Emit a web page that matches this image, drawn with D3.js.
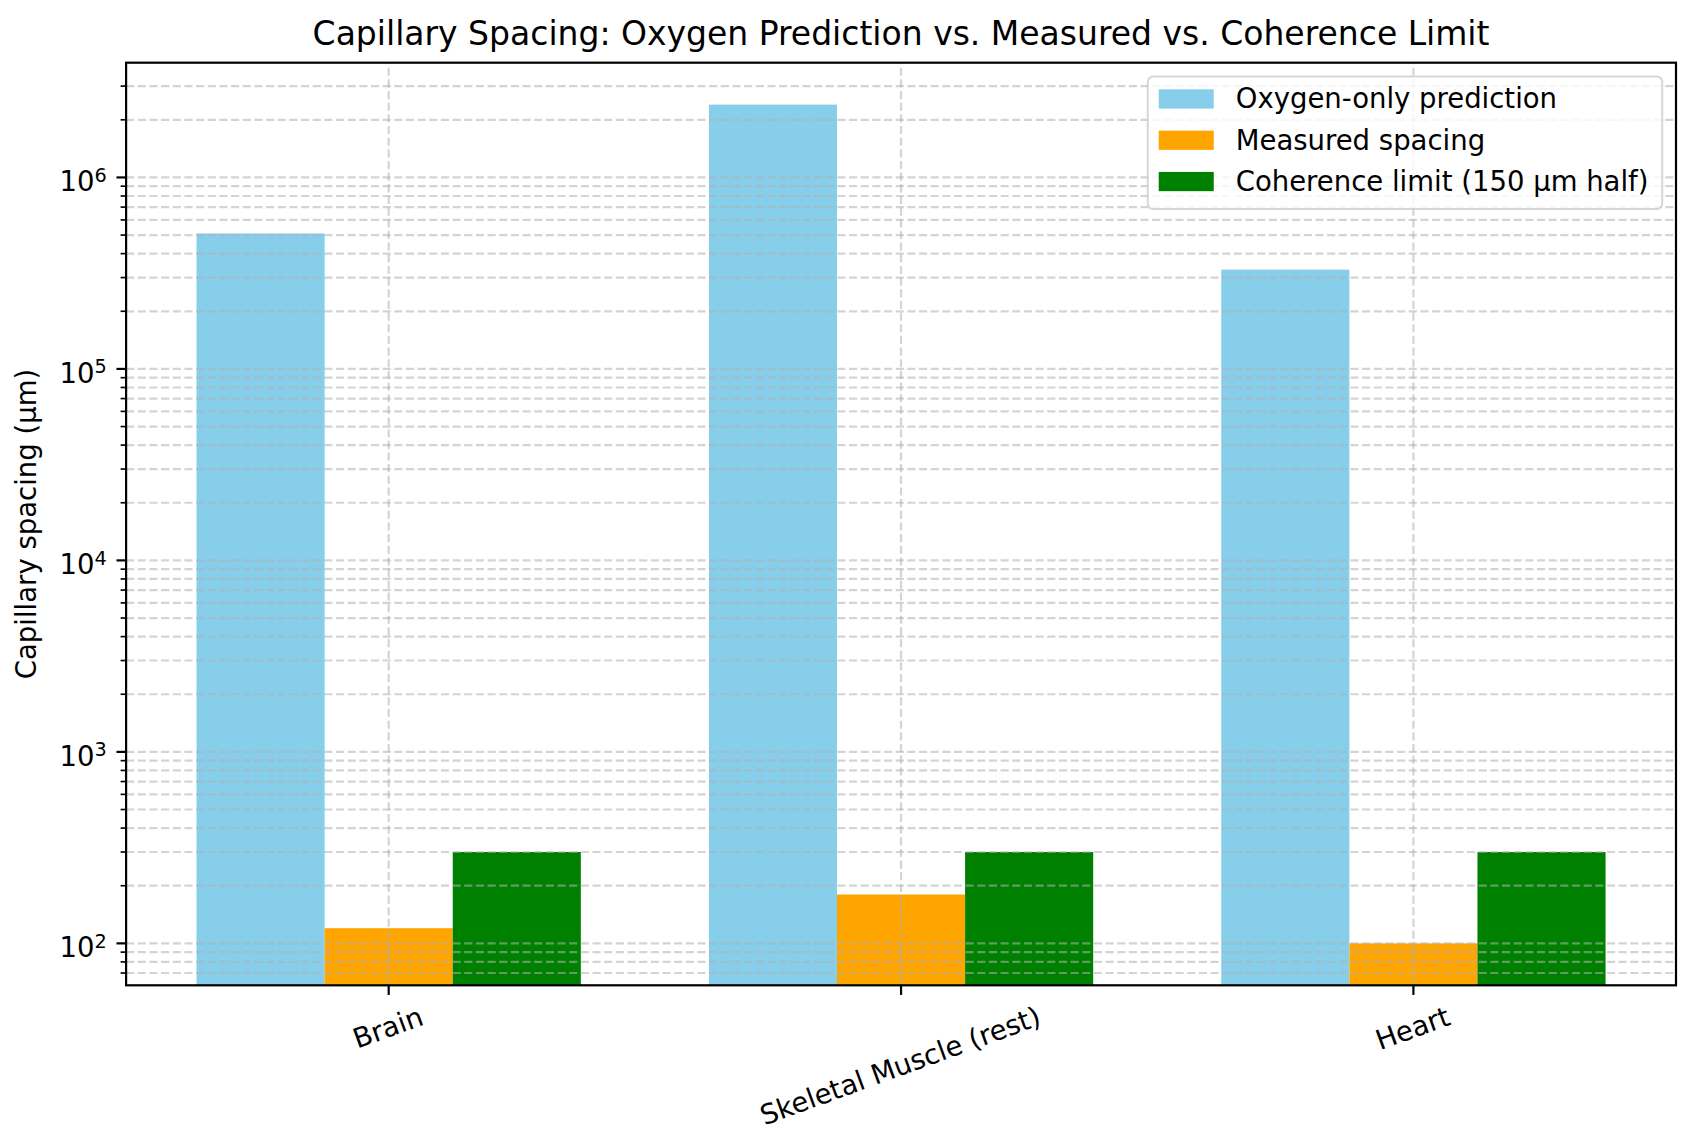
<!DOCTYPE html>
<html>
<head>
<meta charset="utf-8">
<script src="https://cdn.jsdelivr.net/npm/d3@7"></script>
<style>
  html, body { margin: 0; padding: 0; background: #ffffff; }
  svg { display: block; }
  text { font-family: "DejaVu Sans", sans-serif; fill: #000; }
</style>
</head>
<body>
<svg id="chart" width="1692" height="1148"></svg>
<script>
// ---- data ----
const categories = ["Brain", "Skeletal Muscle (rest)", "Heart"];
const oxygenPrediction = [510000, 2400000, 330000];
const measuredSpacing = [120, 180, 100];
const coherenceLimit = [300, 300, 300];
const seriesNames = ["Oxygen-only prediction", "Measured spacing", "Coherence limit (150 µm half)"];
const seriesColors = ["#87CEEB", "#FFA500", "#008000"];
const majorTickValues = [1e2, 1e3, 1e4, 1e5, 1e6];
const majorTickExponents = ["2", "3", "4", "5", "6"];
const titleText = "Capillary Spacing: Oxygen Prediction vs. Measured vs. Coherence Limit";
const yLabelText = "Capillary spacing (µm)";

const series = [oxygenPrediction, measuredSpacing, coherenceLimit];

// ---- layout ----
const W = 1692, H = 1148;
const plot = { left: 126.1, right: 1676, top: 62.7, bottom: 985.3 };
const FS = 27.5;       // 10pt
const TFS = 33;        // 12pt
const PT = 2.75;       // px per pt
const barW = 0.25;

const svg = d3.select("#chart");

// x scale (matplotlib-like 5% margins)
const xLo = -1.5 * barW, xHi = (categories.length - 1) + 1.5 * barW;
const xPad = 0.05 * (xHi - xLo);
const x = d3.scaleLinear().domain([xLo - xPad, xHi + xPad]).range([plot.left, plot.right]);

// y log scale with 5% margins in log space
const allVals = series.flat();
const lmin = Math.log10(d3.min(allVals)), lmax = Math.log10(d3.max(allVals));
const lpad = 0.05 * (lmax - lmin);
const y = d3.scaleLog().domain([Math.pow(10, lmin - lpad), Math.pow(10, lmax + lpad)]).range([plot.bottom, plot.top]);

// ---- bars ----
const offsets = [-barW, 0, barW];
series.forEach((vals, si) => {
  svg.append("g").selectAll("rect").data(vals).join("rect")
    .attr("x", (d, i) => x(i + offsets[si] - barW / 2))
    .attr("width", (d, i) => x(i + offsets[si] + barW / 2) - x(i + offsets[si] - barW / 2))
    .attr("y", d => y(d))
    .attr("height", d => y.range()[0] - y(d))
    .attr("fill", seriesColors[si]);
});

// ---- grid ----
const [d0, d1] = y.domain();
const minorVals = [];
for (let k = Math.floor(Math.log10(d0)); k <= Math.ceil(Math.log10(d1)); k++) {
  for (let m = 2; m <= 9; m++) {
    const v = m * Math.pow(10, k);
    if (v >= d0 && v <= d1) minorVals.push(v);
  }
}
const gridG = svg.append("g")
  .attr("stroke", "#b0b0b0").attr("stroke-opacity", 0.55)
  .attr("stroke-width", 0.8 * PT).attr("stroke-dasharray", `${3.7 * 0.8 * PT} ${1.6 * 0.8 * PT}`)
  .attr("fill", "none");
majorTickValues.concat(minorVals).forEach(v => {
  gridG.append("line").attr("x1", plot.left).attr("x2", plot.right)
    .attr("y1", y(v)).attr("y2", y(v));
});
categories.forEach((c, i) => {
  gridG.append("line").attr("x1", x(i)).attr("x2", x(i))
    .attr("y1", plot.bottom).attr("y2", plot.top);
});

// ---- ticks ----
const tickG = svg.append("g").attr("stroke", "#000");
majorTickValues.forEach(v => {
  tickG.append("line").attr("x1", plot.left).attr("x2", plot.left - 3.5 * PT)
    .attr("y1", y(v)).attr("y2", y(v)).attr("stroke-width", 0.8 * PT);
});
minorVals.forEach(v => {
  tickG.append("line").attr("x1", plot.left).attr("x2", plot.left - 2 * PT)
    .attr("y1", y(v)).attr("y2", y(v)).attr("stroke-width", 0.6 * PT);
});
categories.forEach((c, i) => {
  tickG.append("line").attr("x1", x(i)).attr("x2", x(i))
    .attr("y1", plot.bottom).attr("y2", plot.bottom + 3.5 * PT).attr("stroke-width", 0.8 * PT);
});

// y tick labels (10^n)
const labelX = plot.left - 3.5 * PT - 3.5 * PT;
majorTickValues.forEach((v, i) => {
  const t = svg.append("text").attr("x", labelX).attr("y", y(v) + 14)
    .attr("text-anchor", "end").attr("font-size", FS);
  t.append("tspan").text("10");
  t.append("tspan").attr("font-size", FS * 0.7).attr("dy", -9.5).text(majorTickExponents[i]);
});

// x tick labels, rotated 20deg, bbox-top aligned
const rot = 20 * Math.PI / 180;
const xLabelTop = plot.bottom + 3.5 * PT + 3.5 * PT;
categories.forEach((c, i) => {
  const t = svg.append("text").attr("font-size", FS).attr("text-anchor", "middle").text(c);
  const w = t.node().getComputedTextLength();
  const h = FS * 1.0;
  const Hb = w * Math.sin(rot) + h * Math.cos(rot);
  const cx = x(i), cy = xLabelTop + Hb / 2;
  t.attr("transform", `translate(${cx},${cy}) rotate(-20)`).attr("x", 0).attr("y", 0.26 * FS);
});

// ---- spines ----
svg.append("rect").attr("x", plot.left).attr("y", plot.top)
  .attr("width", plot.right - plot.left).attr("height", plot.bottom - plot.top)
  .attr("fill", "none").attr("stroke", "#000").attr("stroke-width", 0.8 * PT);

// ---- title & y label ----
svg.append("text").attr("x", (plot.left + plot.right) / 2).attr("y", 45)
  .attr("text-anchor", "middle").attr("font-size", TFS).text(titleText);

svg.append("text").attr("transform", `translate(36,${(plot.top + plot.bottom) / 2}) rotate(-90)`)
  .attr("text-anchor", "middle").attr("font-size", FS).text(yLabelText);

// ---- legend ----
const legG = svg.append("g");
const legRight = plot.right - 0.5 * FS;
const legTop = plot.top + 0.5 * FS;
const handleW = 2.0 * FS, handleH = 0.7 * FS;
const rowCenters = [22.5, 63.8, 105.1];
const tmp = [];
seriesNames.forEach(n => {
  const t = legG.append("text").attr("font-size", FS).text(n);
  tmp.push(t);
});
const maxTW = d3.max(tmp, t => t.node().getComputedTextLength());
const legW = 0.4 * FS + handleW + 0.8 * FS + maxTW + 0.5 * FS;
const legH = 132.5;
const legLeft = legRight - legW;
legG.insert("rect", ":first-child").attr("x", legLeft).attr("y", legTop)
  .attr("width", legW).attr("height", legH).attr("rx", 0.2 * FS).attr("ry", 0.2 * FS)
  .attr("fill", "#fff").attr("fill-opacity", 0.8)
  .attr("stroke", "#cccccc").attr("stroke-opacity", 0.8).attr("stroke-width", 2);
seriesNames.forEach((n, i) => {
  const cy = legTop + rowCenters[i];
  legG.append("rect").attr("x", legLeft + 0.4 * FS).attr("y", cy - handleH / 2)
    .attr("width", handleW).attr("height", handleH).attr("fill", seriesColors[i]);
  tmp[i].attr("x", legLeft + 0.4 * FS + handleW + 0.8 * FS).attr("y", cy + 9.3);
});
</script>
</body>
</html>
